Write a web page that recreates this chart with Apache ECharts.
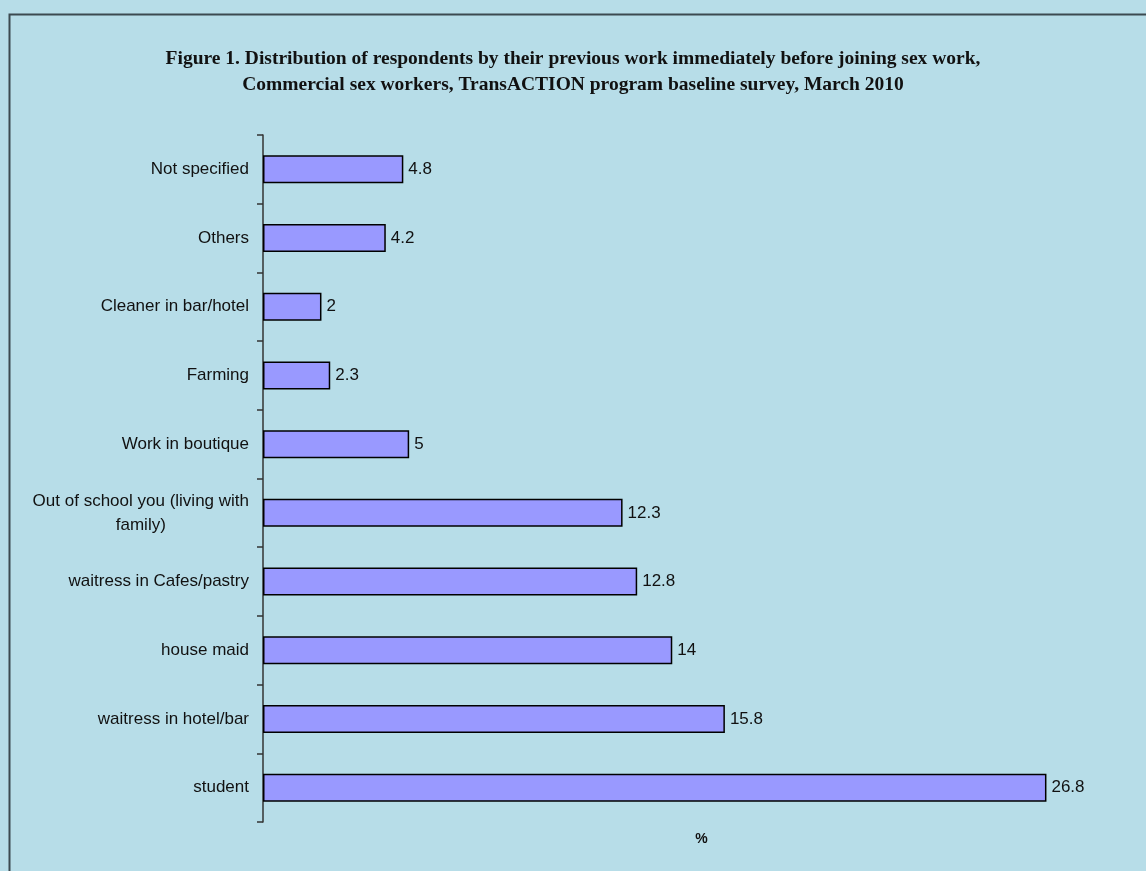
<!DOCTYPE html>
<html>
<head>
<meta charset="utf-8">
<script src="https://cdn.jsdelivr.net/npm/echarts@6/dist/echarts.min.js"></script>
<style>
  html, body { margin: 0; padding: 0; background: #B7DDE8; }
  #chart { width: 1146px; height: 871px; }
</style>
</head>
<body>
<div id="chart"></div>
<script>
// Previous work before joining sex work (% of respondents), listed bottom to top
const categories = [
  'student',
  'waitress in hotel/bar',
  'house maid',
  'waitress in Cafes/pastry',
  'Out of school you (living with\nfamily)',
  'Work in boutique',
  'Farming',
  'Cleaner in bar/hotel',
  'Others',
  'Not specified'
];
const percentages = [26.8, 15.8, 14, 12.8, 12.3, 5, 2.3, 2, 4.2, 4.8];

const titleLines = [
  'Figure 1. Distribution of respondents by their previous work immediately before joining sex work,',
  'Commercial sex workers, TransACTION program baseline survey, March 2010'
];

const sans = '"Liberation Sans", Arial, sans-serif';

const chart = echarts.init(document.getElementById('chart'), null, { renderer: 'canvas' });

chart.setOption({
  backgroundColor: '#B7DDE8',
  animation: false,
  title: {
    text: titleLines.join('\n'),
    left: 'center',
    top: 41,
    textStyle: {
      fontFamily: '"Liberation Serif", "Times New Roman", serif',
      fontWeight: 'bold',
      fontSize: 19.5,
      lineHeight: 26,
      color: '#111'
    }
  },
  graphic: [{
    type: 'rect',
    left: 7,
    top: 12,
    shape: { width: 1200, height: 900 },
    style: { fill: 'none', stroke: '#3C4A50', lineWidth: 2 },
    silent: true
  }],
  grid: { left: 263, right: 6, top: 135, bottom: 49 },
  xAxis: {
    type: 'value',
    min: 0,
    max: 30,
    name: '%',
    nameLocation: 'middle',
    nameGap: 10,
    nameTextStyle: {
      fontFamily: sans,
      fontWeight: 'bold',
      fontSize: 14,
      color: '#111',
      verticalAlign: 'top'
    },
    axisLine: { show: false },
    axisTick: { show: false },
    axisLabel: { show: false },
    splitLine: { show: false }
  },
  yAxis: {
    type: 'category',
    data: categories,
    axisLine: { show: true, lineStyle: { color: '#333', width: 1.5 } },
    axisTick: { show: true, length: 6, lineStyle: { color: '#333', width: 1.5 } },
    axisLabel: {
      margin: 14,
      fontFamily: sans,
      fontSize: 17,
      color: '#111',
      formatter: function (v) {
        return v.split('\n').map(function (s) { return '{c|' + s + '}'; }).join('\n');
      },
      rich: {
        c: {
          align: 'center',
          fontFamily: sans,
          fontSize: 17,
          lineHeight: 24,
          color: '#111'
        }
      }
    }
  },
  series: [{
    type: 'bar',
    data: percentages,
    barWidth: 28,
    itemStyle: { color: '#9999FF', borderColor: '#000', borderWidth: 1.5 },
    label: {
      show: true,
      position: 'right',
      distance: 5,
      fontFamily: sans,
      fontSize: 17,
      color: '#111'
    }
  }]
});
</script>
</body>
</html>
